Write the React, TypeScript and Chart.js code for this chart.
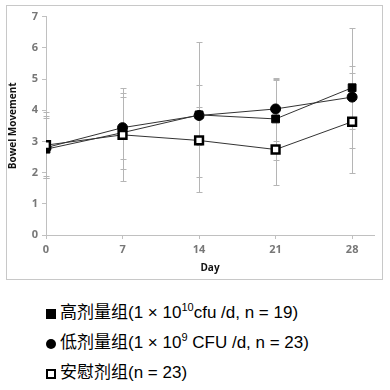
import React, { useEffect, useRef } from "react";
import { Chart, registerables } from "chart.js";
Chart.register(...registerables);

const days = [0, 7, 14, 21, 28];
const dayLabels = ["0", "7", "14", "21", "28"];
const yTickLabels = ["0", "1", "2", "3", "4", "5", "6", "7"];

const highMean = [2.75, 3.28, 3.85, 3.72, 4.72];
const highUpper = [3.95, 4.55, 6.2, 5.0, 6.62];
const highLower = [1.9, 2.1, 1.37, 2.4, 2.8];

const lowMean = [2.8, 3.44, 3.83, 4.04, 4.42];
const lowUpper = [3.82, 4.42, 4.8, 5.04, 5.41];
const lowLower = [1.84, 2.42, 2.9, 3.02, 3.4];

const placeboMean = [2.88, 3.21, 3.03, 2.74, 3.63];
const placeboUpper = [3.76, 4.72, 4.1, 4.96, 5.19];
const placeboLower = [1.84, 1.72, 1.85, 1.6, 2.0];

const yTitle = "Bowel Movement";
const xTitle = "Day";

const toPoints = (vals: number[]) => vals.map((v, i) => ({ x: days[i], y: v }));

const errorBars = {
  id: "errorBars",
  beforeDatasetsDraw(chart: any) {
    const ctx = chart.ctx;
    const xs = chart.scales.x;
    const ys = chart.scales.y;
    ctx.save();
    ctx.strokeStyle = "#b5b5b5";
    ctx.lineWidth = 1;
    chart.data.datasets.forEach((ds: any) => {
      ds.data.forEach((p: any, i: number) => {
        const x = Math.round(xs.getPixelForValue(p.x)) + 0.5;
        const yt = Math.round(ys.getPixelForValue(ds.upper[i])) + 0.5;
        const yb = Math.round(ys.getPixelForValue(ds.lower[i])) + 0.5;
        ctx.beginPath();
        ctx.moveTo(x, yt);
        ctx.lineTo(x, yb);
        ctx.moveTo(x - 3, yt);
        ctx.lineTo(x + 3, yt);
        ctx.moveTo(x - 3, yb);
        ctx.lineTo(x + 3, yb);
        ctx.stroke();
      });
    });
    ctx.restore();
  },
};

const legendFont = '"Liberation Sans", "Noto Sans CJK SC", sans-serif';

function Marker({ kind }: { kind: string }) {
  const base: React.CSSProperties = {
    display: "inline-block",
    width: 10,
    height: 10,
    marginRight: 4,
    boxSizing: "border-box",
    verticalAlign: "-1px",
  };
  if (kind === "square") return <span style={{ ...base, background: "#000" }} />;
  if (kind === "circle") return <span style={{ ...base, background: "#000", borderRadius: "50%" }} />;
  return <span style={{ ...base, background: "#fff", border: "2.5px solid #000" }} />;
}

export default function App() {
  const ref = useRef<HTMLCanvasElement>(null);
  useEffect(() => {
    if (!ref.current) return;
    const tickFont = { family: '"Open Sans", sans-serif', size: 11, weight: "bold" as const };
    const chart = new Chart(ref.current, {
      type: "line",
      data: {
        datasets: [
          {
            label: "placebo",
            data: toPoints(placeboMean),
            upper: placeboUpper,
            lower: placeboLower,
            borderColor: "#333",
            borderWidth: 1,
            pointStyle: "rect",
            pointRadius: 5.5,
            pointBackgroundColor: "#fff",
            pointBorderColor: "#000",
            pointBorderWidth: 2.5,
          } as any,
          {
            label: "high",
            data: toPoints(highMean),
            upper: highUpper,
            lower: highLower,
            borderColor: "#333",
            borderWidth: 1,
            pointStyle: "rect",
            pointRadius: 5.5,
            pointBackgroundColor: "#000",
            pointBorderColor: "#000",
            pointBorderWidth: 1,
          } as any,
          {
            label: "low",
            data: toPoints(lowMean),
            upper: lowUpper,
            lower: lowLower,
            borderColor: "#333",
            borderWidth: 1,
            pointStyle: "circle",
            pointRadius: 5,
            pointBackgroundColor: "#000",
            pointBorderColor: "#000",
            pointBorderWidth: 1,
          } as any,
        ],
      },
      options: {
        responsive: false,
        animation: false,
        layout: { padding: { left: 0, right: 4, top: 3, bottom: 0 } },
        plugins: { legend: { display: false }, tooltip: { enabled: false } },
        scales: {
          x: {
            type: "linear",
            min: 0,
            max: 30,
            afterBuildTicks: (s: any) => {
              s.ticks = days.map((v) => ({ value: v }));
            },
            afterFit: (s: any) => {
              s.height = 44;
            },
            ticks: {
              autoSkip: false,
              maxRotation: 0,
              padding: 4,
              color: "#777",
              font: tickFont,
              callback: (v: any) => {
                const i = days.indexOf(Number(v));
                return i >= 0 ? dayLabels[i] : "";
              },
            },
            grid: { drawOnChartArea: false, drawTicks: true, tickLength: 4, color: "#c0c0c0" },
            border: { color: "#c0c0c0" },
            title: {
              display: true,
              text: xTitle,
              color: "#111",
              font: { family: '"Open Sans", sans-serif', size: 10, weight: "bold" },
              padding: { top: 0, bottom: 5 },
            },
          },
          y: {
            min: 0,
            max: 7,
            afterFit: (s: any) => {
              s.width = 39;
            },
            ticks: {
              stepSize: 1,
              padding: 4,
              color: "#777",
              font: tickFont,
              callback: (v: any) => yTickLabels[Number(v)] ?? "",
            },
            grid: { drawOnChartArea: false, drawTicks: true, tickLength: 4, color: "#c0c0c0" },
            border: { color: "#c0c0c0" },
            title: {
              display: true,
              text: yTitle,
              color: "#111",
              font: { family: '"Open Sans", sans-serif', size: 10, weight: "bold" },
              padding: { top: 0, bottom: 2 },
            },
          },
        },
      } as any,
      plugins: [errorBars],
    });
    return () => chart.destroy();
  }, []);

  const lineStyle: React.CSSProperties = {
    position: "absolute",
    left: 46,
    fontFamily: legendFont,
    fontSize: 17,
    color: "#000",
    whiteSpace: "nowrap",
    lineHeight: "20px",
  };
  const sup: React.CSSProperties = { fontSize: 11, verticalAlign: "7px", lineHeight: 0 };

  return (
    <div style={{ position: "fixed", left: 0, top: 0, width: 390, height: 390, background: "#fff" }}>
      <div
        style={{
          position: "absolute",
          left: 6,
          top: 5,
          width: 377,
          height: 275,
          border: "1px solid #c8c8c8",
          boxSizing: "border-box",
        }}
      >
        <canvas ref={ref} width={375} height={273} style={{ display: "block" }} />
      </div>
      <div style={{ ...lineStyle, top: 303 }}>
        <Marker kind="square" />高剂量组(1 × 10<span style={sup}>10</span>cfu /d, n = 19)
      </div>
      <div style={{ ...lineStyle, top: 333 }}>
        <Marker kind="circle" />低剂量组(1 × 10<span style={sup}>9</span> CFU /d, n = 23)
      </div>
      <div style={{ ...lineStyle, top: 363 }}>
        <Marker kind="open" />安慰剂组(n = 23)
      </div>
    </div>
  );
}
